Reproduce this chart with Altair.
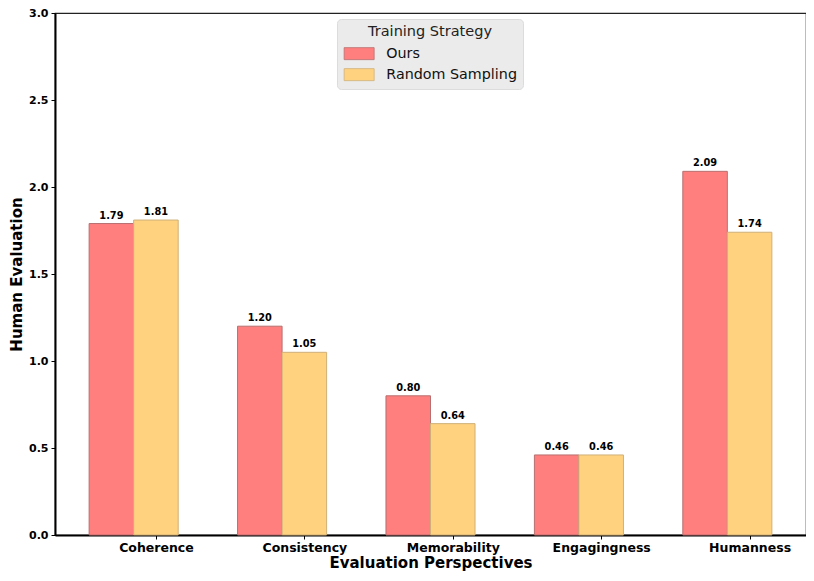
import altair as alt
import pandas as pd

categories = ["Coherence", "Consistency", "Memorability", "Engagingness", "Humanness"]
ours = [1.79, 1.20, 0.80, 0.46, 2.09]
random_sampling = [1.81, 1.05, 0.64, 0.46, 1.74]
strategies = ["Ours", "Random Sampling"]
colors = ["#FF7F7F", "#FFD280"]
strokes = ["#b86f6f", "#cfb078"]
bar_w = 0.3

rows = []
for i, c in enumerate(categories):
    for k, (s, vals) in enumerate(zip(strategies, [ours, random_sampling])):
        center = i + k * bar_w
        rows.append({"cat": c, "strategy": s, "value": vals[i],
                     "xc": center, "x0": center - bar_w / 2, "x1": center + bar_w / 2})
df = pd.DataFrame(rows)

tick_vals = [i + bar_w for i in range(len(categories))]
label_expr = "[" + ",".join(f"'{c}'" for c in categories) + "][round(datum.value - 0.3)]"

xscale = alt.Scale(domain=[-0.38, 4.68], nice=False, zero=False)
yscale = alt.Scale(domain=[0, 3], nice=False)

base = alt.Chart(df)

bars = base.mark_bar(strokeWidth=1).encode(
    x=alt.X("x0:Q", scale=xscale,
            axis=alt.Axis(values=tick_vals, labelExpr=label_expr, title="Evaluation Perspectives",
                          grid=False, labelFontWeight="bold", labelFontSize=12.5, labelColor="black",
                          labelFont="DejaVu Sans", titleFont="DejaVu Sans", titleFontSize=15,
                          titleFontWeight="bold", titleColor="black", tickSize=4, tickColor="black",
                          domainColor="black", domainWidth=2, labelPadding=2, titlePadding=2)),
    x2="x1:Q",
    y=alt.Y("value:Q", scale=yscale,
            axis=alt.Axis(values=[0, 0.5, 1.0, 1.5, 2.0, 2.5, 3.0], format=".1f",
                          title="Human Evaluation", grid=False, labelFontWeight="bold",
                          labelFontSize=11, labelColor="black", labelFont="DejaVu Sans",
                          titleFont="DejaVu Sans", titleFontSize=15, titleFontWeight="bold",
                          titleColor="black", tickSize=4, tickColor="black", domainColor="black",
                          domainWidth=2, labelPadding=3, titlePadding=4)),
    y2=alt.datum(0),
    fill=alt.Fill("strategy:N", scale=alt.Scale(domain=strategies, range=colors),
                  legend=alt.Legend(title="Training Strategy", orient="none", legendX=282, legendY=6,
                                    fillColor="#ebebeb", strokeColor="#dcdcdc", cornerRadius=4,
                                    padding=6, titleFontSize=14.5, titleFontWeight="normal",
                                    titleFont="DejaVu Sans", titleColor="#222", titleAnchor="middle",
                                    labelFontSize=14.3, labelFont="DejaVu Sans", labelColor="#111",
                                    symbolType="M-2.5,-1H2.5V1H-2.5Z", symbolSize=144,
                                    symbolOffset=9,
                                    symbolStrokeColor="#b08a70", symbolStrokeWidth=0.8,
                                    symbolOpacity=1, rowPadding=5, labelOffset=20, titlePadding=7)),
    stroke=alt.Stroke("strategy:N", scale=alt.Scale(domain=strategies, range=strokes), legend=None),
)

labels = base.mark_text(dy=-3, fontSize=9.8, fontWeight="bold", font="DejaVu Sans",
                        color="black", baseline="bottom").encode(
    x=alt.X("xc:Q", scale=xscale),
    y=alt.Y("value:Q", scale=yscale),
    text=alt.Text("value:Q", format=".2f"),
)

chart = (bars + labels).properties(
    width=751, height=522,
    autosize=alt.AutoSizeParams(type="none"),
    padding={"left": 47, "top": 5, "right": 0, "bottom": 38},
).configure_view(stroke="#222", strokeWidth=1.2)

chart.save("out.html", embed_options={"renderer": "svg", "actions": False})
